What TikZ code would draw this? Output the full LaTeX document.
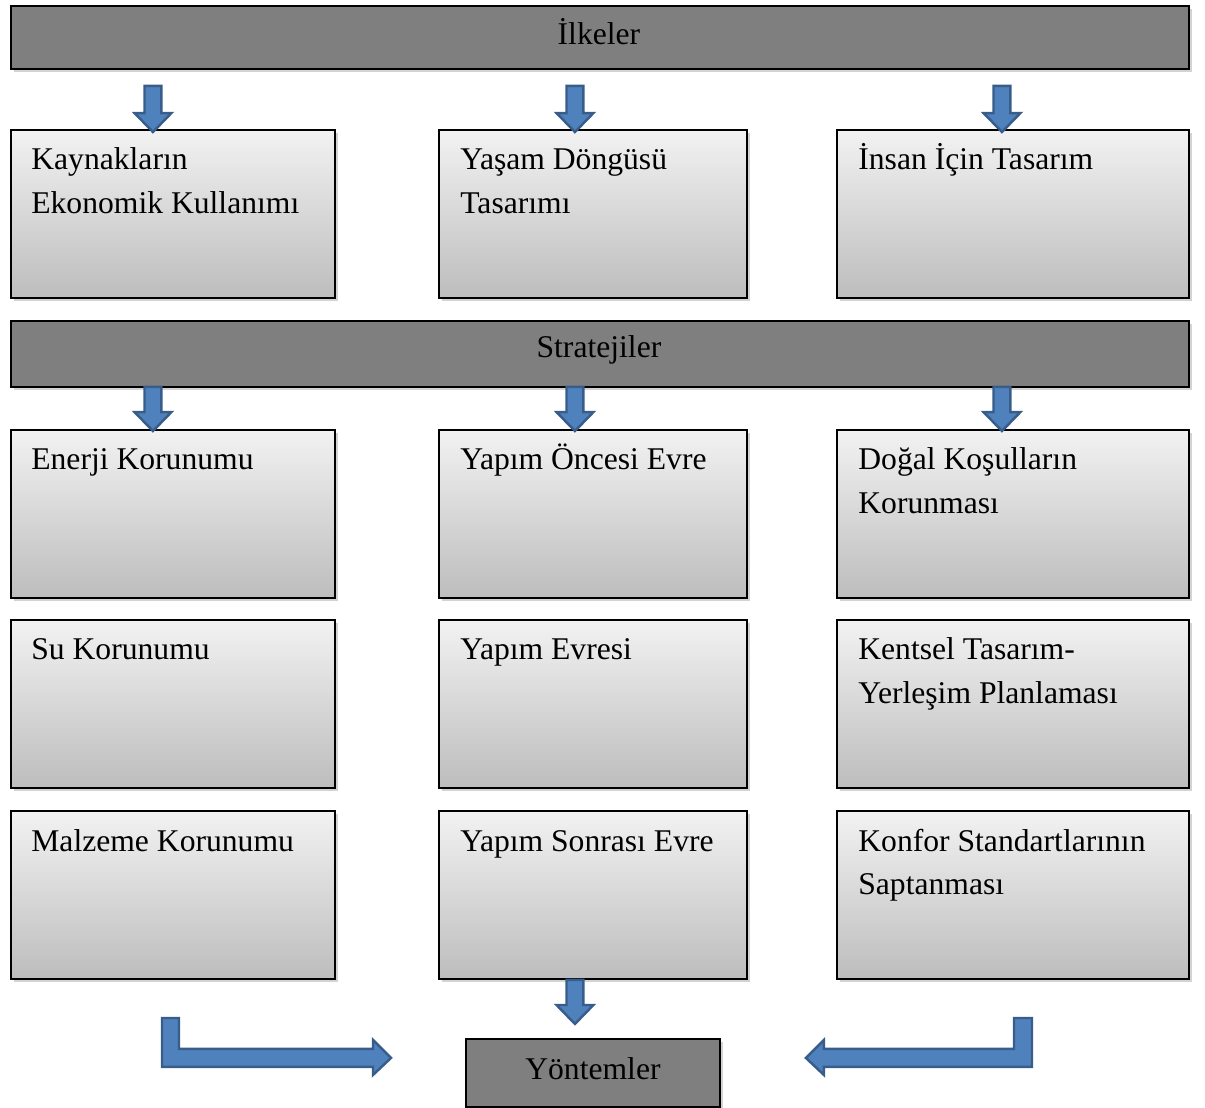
\documentclass[tikz,border=0pt]{standalone}
\usepackage{fontspec}
\setmainfont{Liberation Serif}
\usetikzlibrary{shadows,calc}
\definecolor{barfill}{HTML}{7F7F7F}
\definecolor{arrfill}{HTML}{4F81BD}
\definecolor{arrline}{HTML}{385D8A}
\definecolor{boxtop}{HTML}{F2F2F2}
\definecolor{boxbot}{HTML}{BDBDBD}
\def\px{0.5669pt}
\tikzset{
  bar/.style={draw=black, line width=1.1pt, fill=barfill, inner sep=0pt,
    drop shadow={shadow xshift=1.5pt, shadow yshift=-1.5pt, opacity=0.35}},
  gbox/.style={draw=black, line width=1.1pt, top color=boxtop, bottom color=boxbot, inner sep=0pt,
    drop shadow={shadow xshift=1.5pt, shadow yshift=-1.5pt, opacity=0.35}},
  txt/.style={anchor=base west, inner sep=0pt, font=\fontsize{18}{24.5}\selectfont},
  ctxt/.style={anchor=base, inner sep=0pt, font=\fontsize{18}{24.5}\selectfont},
  barrow/.style={fill=arrfill, draw=arrline, line width=1.4pt, line join=miter},
}
\newcommand\tl[1]{\begin{tabular}[t]{@{}l@{}}#1\end{tabular}}
\newcommand\blockdown[2]{%
  \path[barrow] let \p1=(#1), \p2=(#2) in
   (\x2-8.5*\px,\y1) -- (\x2+8.5*\px,\y1) -- (\x2+8.5*\px,\y2+19*\px) --
   (\x2+18.5*\px,\y2+19*\px) -- (\x2,\y2) -- (\x2-18.5*\px,\y2+19*\px) --
   (\x2-8.5*\px,\y2+19*\px) -- cycle;}
\begin{document}
\begin{tikzpicture}[x=0.02cm, y=-0.02cm]
\useasboundingbox (0,0) rectangle (1205,1108);
% bars
\path (10,5) node[bar, anchor=north west, minimum width=1178*0.02cm, minimum height=63*0.02cm] (ilk) {};
\node[ctxt] (ilkt) at ($(ilk.north)+(-1,40)$) {İlkeler};
\path (10,320) node[bar, anchor=north west, minimum width=1178*0.02cm, minimum height=66*0.02cm] (str) {};
\node[ctxt] (strt) at ($(str.north)+(-1,38)$) {Stratejiler};
\path (465,1038) node[bar, anchor=north west, minimum width=254*0.02cm, minimum height=68*0.02cm] (yon) {};
\node[ctxt] (yont) at ($(yon.north)+(0,41)$) {Yöntemler};
% row 1
\path (10,129) node[gbox, anchor=north west, minimum width=324*0.02cm, minimum height=168*0.02cm] (a1) {};
\path (438,129) node[gbox, anchor=north west, minimum width=308*0.02cm, minimum height=168*0.02cm] (a2) {};
\path (836,129) node[gbox, anchor=north west, minimum width=352*0.02cm, minimum height=168*0.02cm] (a3) {};
% row 2
\path (10,429) node[gbox, anchor=north west, minimum width=324*0.02cm, minimum height=168*0.02cm] (b1) {};
\path (438,429) node[gbox, anchor=north west, minimum width=308*0.02cm, minimum height=168*0.02cm] (b2) {};
\path (836,429) node[gbox, anchor=north west, minimum width=352*0.02cm, minimum height=168*0.02cm] (b3) {};
% row 3
\path (10,619) node[gbox, anchor=north west, minimum width=324*0.02cm, minimum height=168*0.02cm] (c1) {};
\path (438,619) node[gbox, anchor=north west, minimum width=308*0.02cm, minimum height=168*0.02cm] (c2) {};
\path (836,619) node[gbox, anchor=north west, minimum width=352*0.02cm, minimum height=168*0.02cm] (c3) {};
% row 4
\path (10,810) node[gbox, anchor=north west, minimum width=324*0.02cm, minimum height=168*0.02cm] (d1) {};
\path (438,810) node[gbox, anchor=north west, minimum width=308*0.02cm, minimum height=168*0.02cm] (d2) {};
\path (836,810) node[gbox, anchor=north west, minimum width=352*0.02cm, minimum height=168*0.02cm] (d3) {};
% texts
\node[txt] (a1t) at ($(a1.north west)+(21,41)$) {\tl{Kaynakların\\Ekonomik Kullanımı}};
\node[txt] (a2t) at ($(a2.north west)+(22,41)$) {\tl{Yaşam Döngüsü\\Tasarımı}};
\node[txt] (a3t) at ($(a3.north west)+(22,41)$) {İnsan İçin Tasarım};
\node[txt] (b1t) at ($(b1.north west)+(21,41)$) {Enerji Korunumu};
\node[txt] (b2t) at ($(b2.north west)+(22,41)$) {Yapım Öncesi Evre};
\node[txt] (b3t) at ($(b3.north west)+(22,41)$) {\tl{Doğal Koşulların\\Korunması}};
\node[txt] (c1t) at ($(c1.north west)+(21,41)$) {Su Korunumu};
\node[txt] (c2t) at ($(c2.north west)+(22,41)$) {Yapım Evresi};
\node[txt] (c3t) at ($(c3.north west)+(22,41)$) {\tl{Kentsel Tasarım-\\Yerleşim Planlaması}};
\node[txt] (d1t) at ($(d1.north west)+(21,41)$) {Malzeme Korunumu};
\node[txt] (d2t) at ($(d2.north west)+(22,41)$) {Yapım Sonrası Evre};
\node[txt] (d3t) at ($(d3.north west)+(22,41)$) {\tl{Konfor Standartlarının\\Saptanması}};
% arrow anchor coordinates
\coordinate (p1a) at ($(ilk.south -| a1.west)+(142,16)$);
\coordinate (p1b) at ($(a1.north)+(-20,3)$);
\coordinate (p2a) at ($(ilk.south -| a2.west)+(136,16)$);
\coordinate (p2b) at ($(a2.north)+(-18,3)$);
\coordinate (p3a) at ($(ilk.south -| a3.west)+(165,16)$);
\coordinate (p3b) at ($(a3.north)+(-11,3)$);
\coordinate (q1a) at ($(str.south)+(0,-1)$);
\coordinate (q1b) at ($(b1.north)+(-20,2)$);
\coordinate (q2b) at ($(b2.north)+(-18,2)$);
\coordinate (q3b) at ($(b3.north)+(-11,2)$);
\coordinate (rta) at (d2.south);
\coordinate (rtb) at ($(d2.south)+(-18,44)$);
\blockdown{p1a}{p1b}
\blockdown{p2a}{p2b}
\blockdown{p3a}{p3b}
\blockdown{q1a}{q1b}
\blockdown{q1a}{q2b}
\blockdown{q1a}{q3b}
\blockdown{rta}{rtb}
% L arrows
\coordinate (lstart) at (162,1018);
\coordinate (ltip) at ($(yon.west)+(-74,-15)$);
\coordinate (rstart) at (1032,1018);
\coordinate (rtip) at ($(yon.east)+(85,-15)$);
\path[barrow] (lstart) -- ++(17,0) |- ($(ltip)+(-18,-9)$) -- ++(0,-9) -- (ltip) -- ++(-18,17) -- ++(0,-8) -| cycle;
\path[barrow] (rstart) -- ++(-18,0) |- ($(rtip)+(18,-9)$) -- ++(0,-9) -- (rtip) -- ++(18,17) -- ++(0,-8) -| cycle;
\end{tikzpicture}
\end{document}
